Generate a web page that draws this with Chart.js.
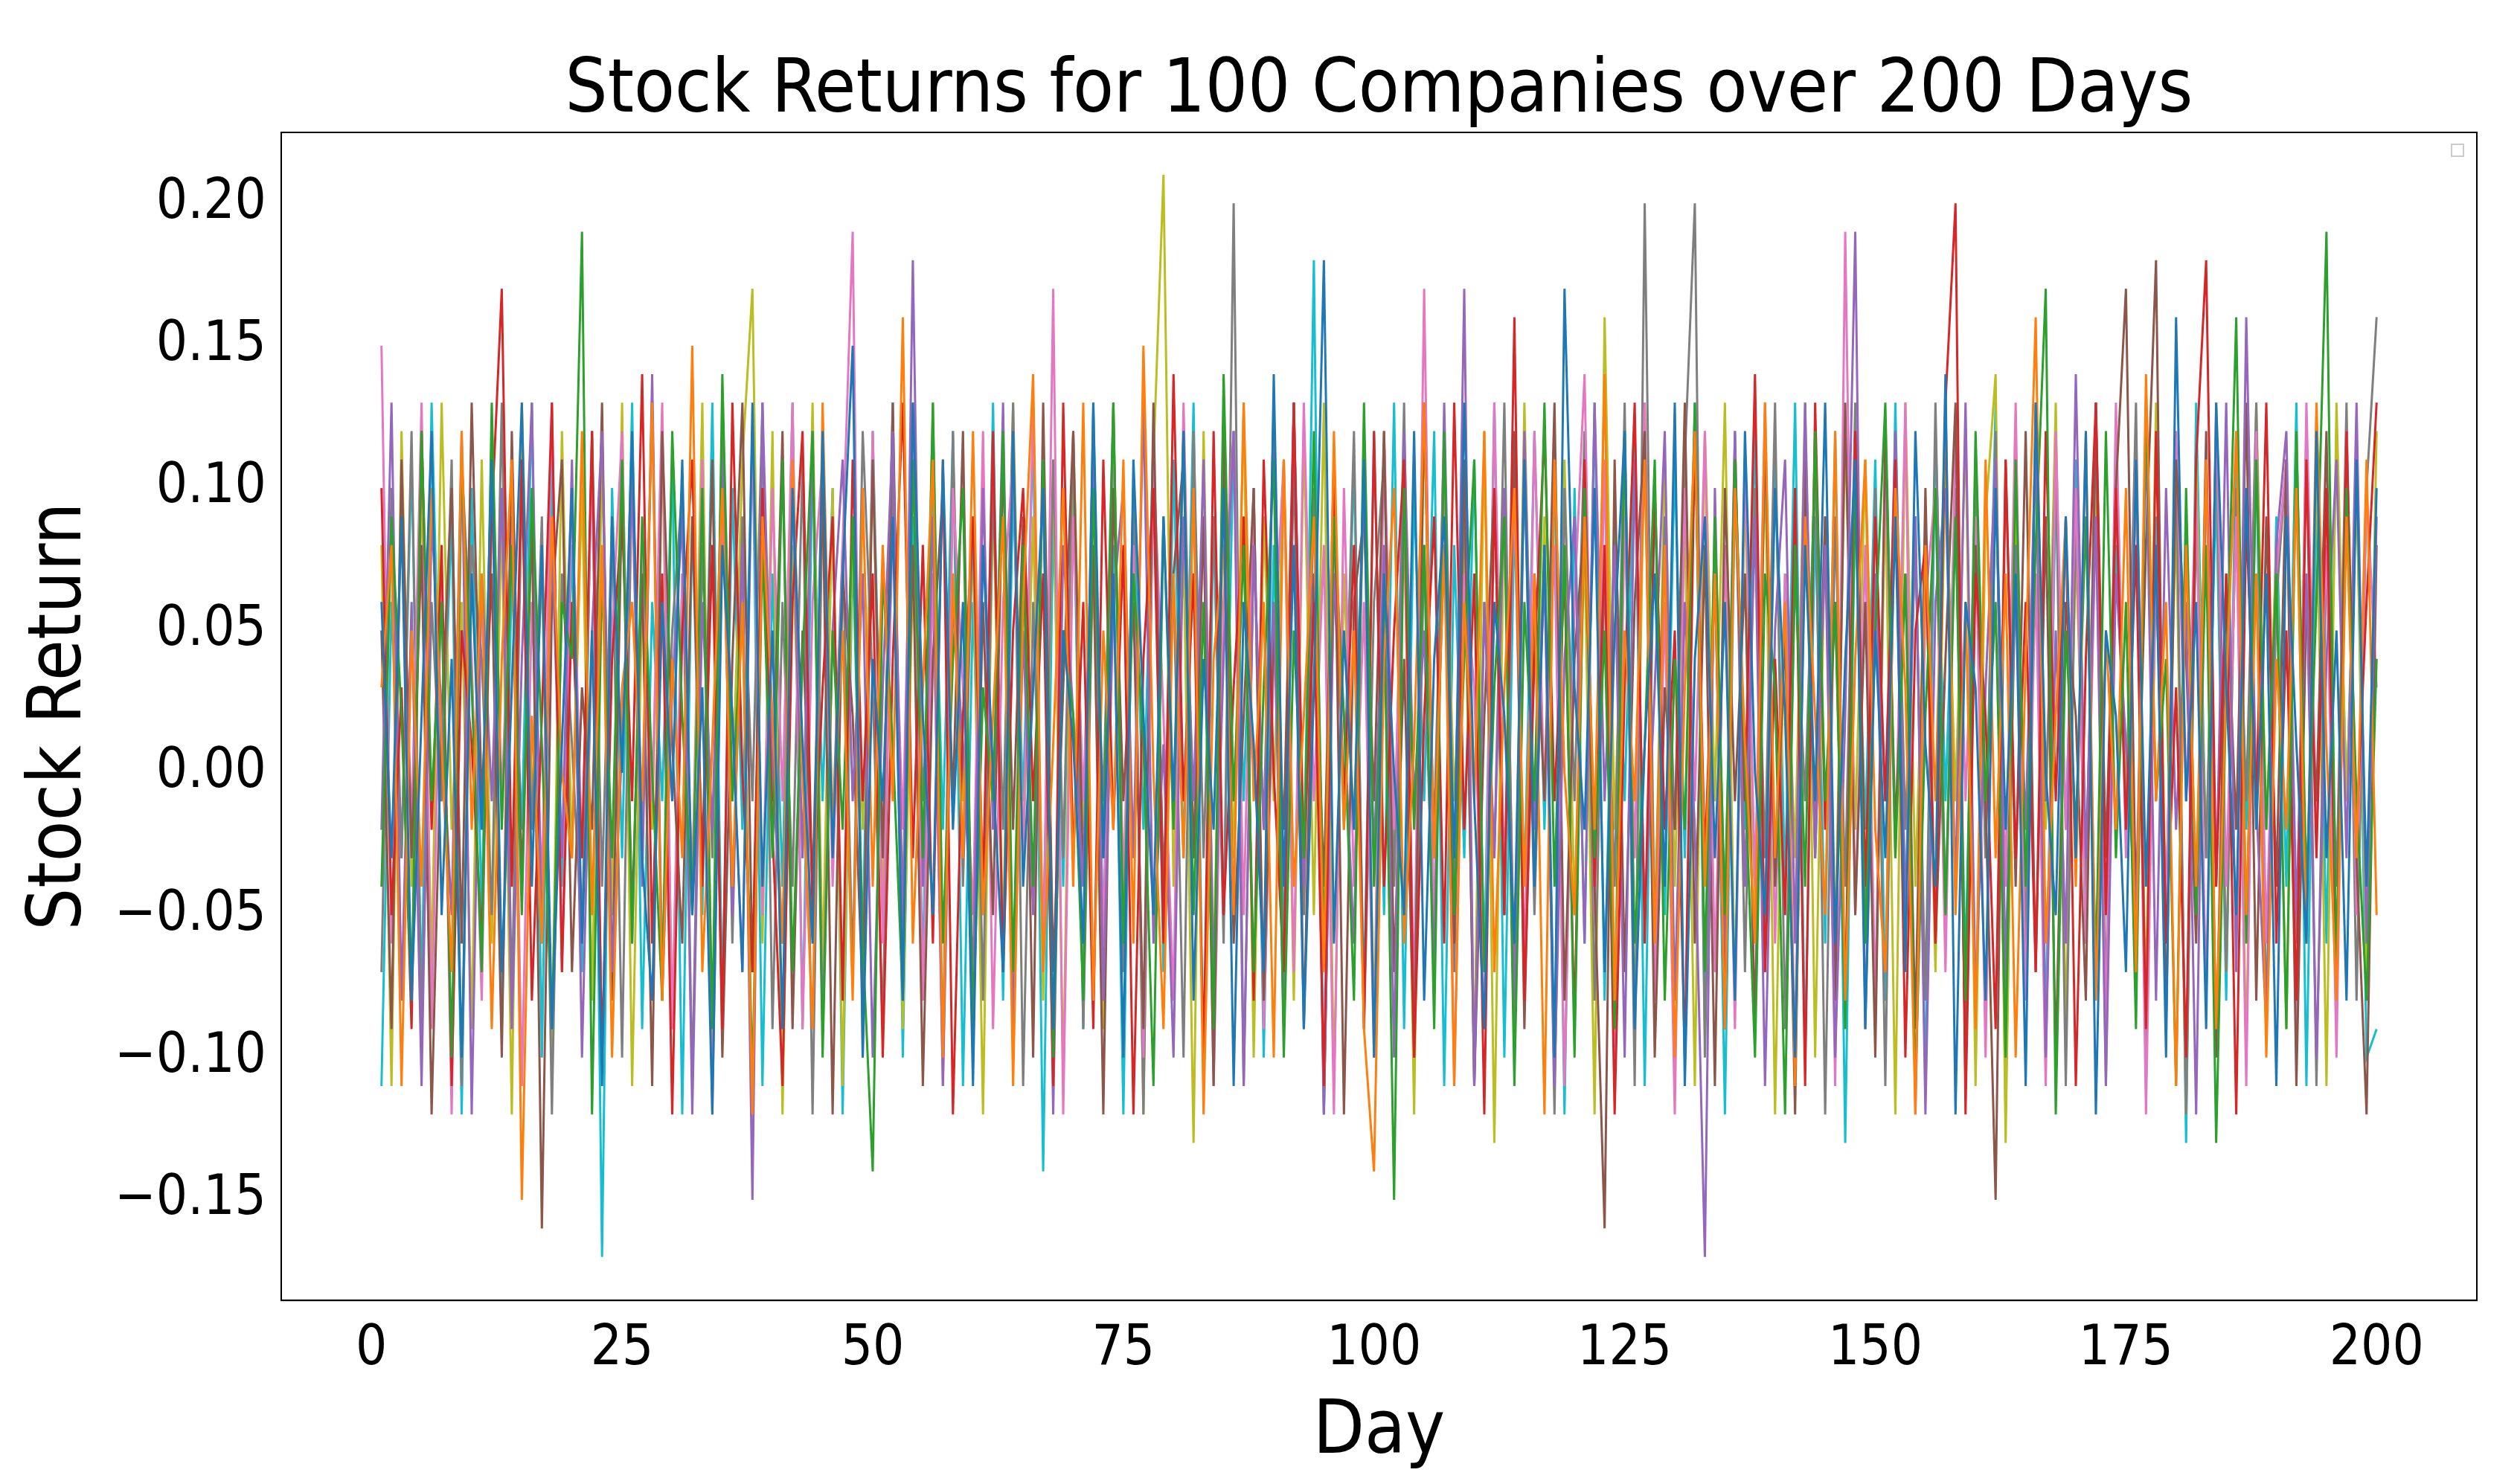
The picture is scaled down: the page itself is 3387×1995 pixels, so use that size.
<!DOCTYPE html>
<html>
<head>
<meta charset="utf-8">
<script src="https://cdn.jsdelivr.net/npm/chart.js@4/dist/chart.umd.min.js"></script>
<style>
  html, body { margin: 0; padding: 0; background: #fff; }
  #wrap { width: 3387px; height: 1995px; }
</style>
</head>
<body>
<div id="wrap"><canvas id="myChart" width="3387" height="1995"></canvas></div>
<script>
// daily returns, in hundredths (0.01), read /
var blueReturns = [6,-3,9,-8,2,12,-5,4,-10,7, -2,11,-7,3,13,-4,8,-9,1,10, -6,5,-11,9,0,12,-3,-8,6,-1, 11,-5,3,-12,8,2,-7,13,-4,5, -9,10,1,-6,12,-3,7,15,-10,4, -1,9,-8,13,2,-5,11,-2,6,-11, 8,0,-7,12,-4,3,10,-9,5,1, -6,13,-3,7,-10,11,2,-5,9,-1, 12,-8,4,-2,10,-11,6,1,-7,14, -4,8,-9,3,18,-6,5,-2,11,-10, 7,0,-5,12,-8,4,9,-3,13,-1, -9,6,2,-6,11,-4,8,-10,17,3, -2,10,-7,5,12,-9,1,7,-4,13, -11,4,9,-3,6,-8,12,0,-5,10, 2,-10,8,-1,13,-6,4,11,-9,5, -3,9,-7,12,1,-4,14,-12,6,3, -8,10,-2,7,-11,13,0,-5,9,-3, 12,-12,5,2,-7,11,-4,8,-10,16, -1,6,-9,13,3,-5,10,-2,7,-11, 9,1,-6,12,-3,5,-8,11,-4,10];
var orangeReturns = [3,8,-11,5,-4,10,1,-7,12,-2, 7,-9,4,11,-15,2,-6,9,0,-3, 12,-5,8,-10,3,6,-1,13,-8,4, -3,15,-7,1,10,-4,6,-12,9,2, -6,11,0,-9,13,-2,5,-8,10,-4, 8,-1,16,-6,3,11,-10,7,-3,12, -5,2,9,-11,6,14,-7,1,10,-4, 13,-8,5,-2,11,-6,15,0,-9,7, -3,10,-12,4,8,-5,13,-1,6,-10, 11,-4,2,9,-7,12,-2,5,-9,-14, 4,10,-6,1,13,-3,8,-11,6,-1, 12,-7,3,10,-4,7,-12,11,0,-5, 9,-2,14,-8,5,-1,11,-6,8,-10, 3,12,-4,7,-9,10,1,-6,13,-3, 6,-11,9,2,-5,12,-8,4,11,-2, -7,10,3,-12,8,-1,13,-5,6,-9, 11,-3,7,-10,4,16,-6,2,9,-4, 12,-8,5,-2,10,-7,14,-1,6,-11, 8,-4,11,-9,3,12,-5,7,-10,4, -2,10,-6,13,1,-8,9,-3,11,-5];
var greenReturns = [-4,9,2,-8,12,-1,6,-10,11,3, -7,13,-2,8,-5,10,1,-9,6,4, 19,-12,7,-3,11,-6,9,0,-8,12, 2,-5,10,-9,14,-1,6,-11,8,-3, 11,-7,4,12,-10,5,-2,9,-6,-14, 7,1,-8,11,-3,13,-6,4,10,-9, 3,-1,12,-7,8,-4,11,-10,5,2, -8,10,-3,13,-6,7,1,-11,9,-2, 12,-5,6,-9,14,-1,8,-7,3,11, -10,5,-3,12,-6,9,2,-8,13,-4, 6,-15,10,-2,8,-9,12,-5,4,11, -7,3,9,-11,6,-1,13,-4,8,-10, 10,-3,5,-9,12,-6,1,11,-8,4, -2,13,-7,9,-5,11,0,-10,7,3, -12,8,-4,12,-1,6,-9,10,-6,5, 13,-3,7,-11,2,10,-5,9,-8,12, -1,6,-10,11,-4,8,17,-12,5,-2, 9,-7,12,-3,6,-9,13,-1,4,-11, 10,-5,8,-13,3,16,-6,11,-2,7, -9,12,-4,6,19,-7,10,-1,-8,4];
var redReturns = [10,-5,3,-9,12,-2,8,-11,5,1, -6,9,17,-4,11,-8,2,13,-7,6, -3,12,-10,4,9,-1,14,-6,7,-12, 5,11,-4,8,-9,13,0,-7,10,-2, -11,6,12,-5,3,9,-8,11,-1,7, -10,4,13,-3,8,-6,11,-12,2,9, -4,12,-7,5,10,-1,7,-11,13,-3, 6,-9,11,-2,8,-12,4,10,-6,14, -1,7,-10,12,-5,3,9,-8,11,0, -7,13,-3,6,-11,10,-1,8,-9,12, -4,5,11,-10,2,9,-6,13,-2,7, -12,10,-5,16,-8,4,12,-1,7,-9, 11,-4,8,-12,3,13,-6,10,-2,5, -10,12,-3,7,-9,11,-1,14,-7,4, -5,10,-11,13,-2,6,-8,12,-4,9, -1,11,-10,5,8,-6,13,20,-12,7, 2,-9,11,-3,6,-7,12,-1,9,-11, 4,13,-5,10,-2,8,-9,12,-6,3, -10,11,18,-4,7,-12,9,-1,13,-6, 5,-8,11,-3,10,-7,12,-2,6,13];
var purpleReturns = [-2,13,-8,6,-11,9,2,-5,12,-12, 7,-1,10,-9,4,13,-6,8,-3,11, -10,5,12,-7,1,10,-4,14,-8,3, 9,-12,6,-2,11,-5,8,-15,13,0, -6,10,-3,12,-9,5,11,-1,7,-10, 3,12,-6,18,-4,9,-11,6,1,-7, 10,-2,13,-9,5,-5,11,-12,8,2, -4,12,-8,6,10,-3,13,-6,1,-10, 9,-1,11,-7,4,12,-11,8,-2,6, -9,13,-4,10,-12,7,2,-6,11,-3, 8,-10,12,-1,5,-7,13,-4,17,-11, 6,-3,10,-8,12,-2,7,-11,4,9, -6,13,-1,8,-10,11,-5,3,12,-8, 6,-2,-17,10,-7,12,-4,9,-11,5, 11,-6,13,-3,8,-10,2,19,-9,7, -1,12,-5,9,-12,6,10,-4,13,-8, 3,11,-7,8,-2,12,-10,5,-6,14, -3,9,-11,7,1,-5,12,-8,10,-2, 6,-12,11,-4,13,-7,16,-1,-9,8, 12,-5,7,-10,4,11,-3,13,-6,9];
var brownReturns = [5,-9,11,-3,8,-12,2,10,-6,13, -1,7,-10,12,-4,9,-16,6,11,-7, 3,-2,13,-8,10,-5,7,-11,12,1, -6,9,-3,11,-10,4,13,-7,8,-1, 12,-9,5,-4,10,-12,7,2,-8,11, -3,13,-6,8,-11,4,10,-1,12,-9, 6,-5,11,-2,9,-10,13,-7,3,12, -4,8,-12,10,-1,6,-9,13,-5,7, 11,-3,9,-11,12,-6,2,10,-8,5, -2,13,-9,7,-4,11,-12,6,9,-1, 12,-7,4,-10,13,-3,8,-6,11,-11, 2,10,-5,12,-9,7,-1,13,-8,4, 9,-4,-16,11,-7,6,12,-10,3,-2, 13,-6,8,-11,10,-1,7,-9,12,-4, 5,-12,11,-3,9,-8,13,-5,6,-10, 12,-2,7,-9,10,-6,4,13,-11,8, -1,-15,11,-4,12,-7,9,-10,6,2, -8,13,-3,10,17,-5,8,18,-9,11, 4,-6,12,-10,7,-2,13,-8,9,-4, 11,-11,6,-1,12,-7,10,-3,-12,8];
var pinkReturns = [15,-6,10,-2,13,-9,7,-12,11,4, -8,12,-1,9,-11,6,-4,13,-7,10, -3,11,-10,5,12,-6,8,-1,13,-9, 7,-4,11,-12,9,2,-7,12,-5,10, -1,13,-9,6,11,-4,8,19,-10,12, -6,9,-2,13,-8,7,-11,10,3,-5, 12,-9,6,11,-3,13,-7,17,-12,9, -1,10,-6,12,-4,8,-10,11,2,-8, 13,-3,9,-11,6,12,-5,10,-9,4, 11,-7,13,-1,8,-12,10,-4,6,-10, 12,-2,9,-8,17,-6,11,-11,7,3, -9,13,-4,10,-7,12,-1,8,-11,6, 14,-5,11,-10,9,-3,13,-8,6,-12, 10,-1,12,-7,8,-9,11,-4,13,-6, 7,-10,12,-2,9,-11,19,-5,8,-8, 11,-3,13,-12,6,10,-7,12,-1,9, -10,11,-4,13,-8,7,-11,12,-2,10, -6,9,-9,13,-3,11,-12,8,-5,12, -1,10,-8,13,-4,9,-11,12,-6,7, 11,-9,13,-2,8,-10,12,-5,10,3];
var grayReturns = [-7,10,-3,12,-9,6,-1,11,-11,8, 4,-5,13,-8,10,-2,9,-12,7,1, -6,12,-4,9,-10,11,-2,13,-7,5, 10,-11,8,-3,12,-6,9,-1,13,-9, 6,-4,11,-12,10,-2,8,-7,12,3, -9,11,-5,13,-1,7,-10,12,-4,9, -8,10,-2,13,-11,6,-6,11,-3,12, -9,8,-1,13,-7,10,-12,11,-4,7, -10,12,-3,9,-6,20,-11,8,-2,13, -8,11,-5,10,-12,7,-1,12,-9,6, 11,-4,13,-10,8,-2,12,-7,10,-11, 6,-3,13,-9,11,-5,8,-12,10,-1, 12,-8,7,-4,13,-11,20,-6,9,-2, 11,20,-10,8,-5,12,-7,10,-3,13, -9,7,-1,11,-12,9,-4,13,-6,10, -11,12,-2,8,-8,13,-5,10,-10,11, -3,12,-9,7,-6,13,-1,11,-11,9, -4,12,-8,10,-2,13,-10,7,-5,11, -12,9,-3,12,-7,10,-1,13,-9,6, 11,-6,12,-11,8,-4,13,-8,10,16];
var oliveReturns = [8,-11,12,-4,10,-7,13,-2,6,-9, 11,-6,9,-12,13,-1,7,-10,12,-3, 10,-8,11,-5,13,-11,6,-2,12,-9, 7,-4,13,-10,9,-1,11,17,-6,12, -12,8,-3,13,-7,10,-11,9,-2,11, -5,12,-9,7,-4,13,-10,11,-1,8, -12,10,-6,13,-3,9,-8,11,-11,12, -2,7,-9,13,-5,10,-12,11,21,-4, 8,-13,12,-7,10,-3,13,-10,9,-1, 11,-8,12,-5,13,-11,7,-2,10,-9, 12,-4,9,-12,13,-6,11,-1,8,-10, 12,-13,10,-7,13,-3,9,-11,11,-5, 8,-12,16,-2,10,-9,13,-6,11,-4, 9,-11,12,-1,13,-8,10,-5,11,-12, 7,-3,13,-10,9,-6,12,-2,11,-9, 10,-12,13,-4,8,-7,11,-1,12,-11, 9,14,-13,10,-6,12,-2,13,-9,8, -4,11,-11,12,-1,10,-8,13,-5,9, -12,11,-3,12,-7,10,-10,13,-2,8, -9,12,-5,11,-11,13,-1,10,-7,12];
var cyanReturns = [-11,6,-3,11,-8,13,-1,9,-12,10, -5,12,-9,7,-2,13,-10,11,-4,8, -7,12,-17,10,-3,13,-9,6,-1,11, -12,9,-5,13,-8,10,-2,12,-11,7, -4,13,-9,11,-1,10,-12,8,-6,12, -3,13,-10,9,-7,11,-2,12,-11,6, -5,13,-8,10,-1,12,-14,9,-4,11, -9,13,-6,8,-12,10,-2,12,-7,11, -3,13,-11,9,-5,12,-1,10,-10,8, -6,13,-4,18,-12,9,-2,11,-8,12, -5,13,-9,10,-1,12,-11,8,-3,11, -7,13,-10,9,-4,12,-2,11,-12,10, -6,13,-8,9,-1,12,-11,10,-5,11, -3,13,-9,8,-12,10,-2,12,-7,11, -4,13,-10,9,-6,12,-13,10,-2,11, -8,13,-5,9,-11,12,-1,10,-7,11, -3,13,-12,9,-4,12,-9,10,-2,11, -6,13,-10,8,-1,12,-11,9,-5,11, -13,13,-3,10,-8,12,-2,11,-9,9, -4,13,-11,10,-6,12,-1,11,-10,-9];

var seriesList = [blueReturns, orangeReturns, greenReturns, redReturns, purpleReturns,
                  brownReturns, pinkReturns, grayReturns, oliveReturns, cyanReturns];
var seriesColors = ['#1f77b4','#ff7f0e','#2ca02c','#d62728','#9467bd','#8c564b','#e377c2','#7f7f7f','#bcbd22','#17becf'];
var yTicks = [-0.15, -0.10, -0.05, 0.00, 0.05, 0.10, 0.15, 0.20];
var xTicks = [0, 25, 50, 75, 100, 125, 150, 175, 200];
var chartTitle = 'Stock Returns for 100 Companies over 200 Days';

var datasets = seriesList.map(function(vals, i) {
	return {
		label: 'Company ' + (i + 1),
		data: vals.map(function(v, d) { return {x: d + 1, y: v / 100}; }),
		borderColor: seriesColors[i],
		borderWidth: 3,
		pointRadius: 0,
		fill: false,
		tension: 0
	};
});

window.onload = function() {
	const ctx = document.getElementById('myChart').getContext('2d');
	new Chart(ctx, {
		type: 'line',
		data: { datasets: datasets },
		options: {
			responsive: false,
			animation: false,
			layout: { padding: { left: 18, right: 58, top: 178, bottom: 4 } },
			plugins: {
				legend: { display: false },
				tooltip: { enabled: false },
				title: { display: false }
			},
			scales: {
				x: {
					type: 'linear', min: -9, max: 210,
					afterBuildTicks: function(ax) { ax.ticks = xTicks.map(function(v) { return {value: v}; }); },
					grid: { display: false, drawTicks: true, tickLength: 14, tickColor: '#000' },
					border: { display: true, color: '#000', width: 2 },
					ticks: { color: '#000', font: { family: 'DejaVu Sans Condensed', size: 74 }, padding: 8, maxRotation: 0 },
					title: { display: true, text: 'Day', color: '#000', font: { family: 'DejaVu Sans Condensed', size: 100 }, padding: { top: 0 } }
				},
				y: {
					min: -0.1853, max: 0.2249,
					afterBuildTicks: function(ax) { ax.ticks = yTicks.map(function(v) { return {value: v}; }); },
					grid: { display: false, drawTicks: true, tickLength: 14, tickColor: '#000' },
					border: { display: true, color: '#000', width: 2 },
					ticks: {
						color: '#000', font: { family: 'DejaVu Sans Condensed', size: 74 }, padding: 6,
						callback: function(v) { return (v < 0 ? '\u2212' : '') + Math.abs(v).toFixed(2); }
					},
					title: { display: true, text: 'Stock Return', color: '#000', font: { family: 'DejaVu Sans Condensed', size: 100 }, padding: { bottom: 6 } }
				}
			}
		},
		plugins: [{
			id: 'frame',
			afterDraw: function(chart) {
				var a = chart.chartArea, c = chart.ctx;
				c.save();
				c.strokeStyle = '#000'; c.lineWidth = 2;
				c.strokeRect(a.left, a.top, a.right - a.left, a.bottom - a.top);
				// empty legend box in the upper right corner
				c.strokeStyle = '#ccc';
				c.strokeRect(a.right - 34, a.top + 16, 16, 16);
				// title centred over the plot area, like matplotlib
				c.fillStyle = '#000';
				c.font = '100px "DejaVu Sans Condensed"';
				c.textAlign = 'center';
				c.textBaseline = 'alphabetic';
				c.fillText(chartTitle, (a.left + a.right) / 2, a.top - 28);
				c.restore();
			}
		}]
	});
};
</script>
</body>
</html>
